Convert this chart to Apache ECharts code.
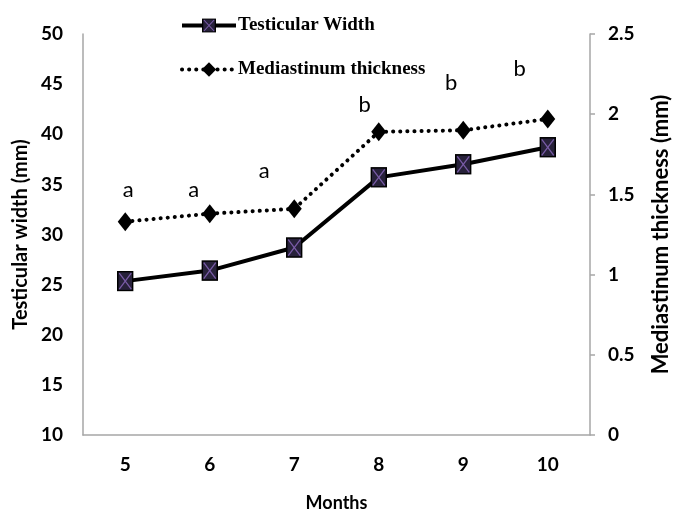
<!DOCTYPE html>
<html>
<head>
<meta charset="utf-8">
<script src="https://cdn.jsdelivr.net/npm/echarts@6/dist/echarts.min.js"></script>
<style>html,body{margin:0;padding:0;background:#fff}#c{width:680px;height:517px}</style>
</head>
<body>
<div id="c"></div>
<script>
var months = ['5', '6', '7', '8', '9', '10'];
var testicularWidth = [25.35, 26.4, 28.7, 35.7, 37.0, 38.7];
var mediastinumThickness = [1.33, 1.38, 1.41, 1.89, 1.90, 1.97];
var letters = ['a', 'a', 'a', 'b', 'b', 'b'];
var leftTicks = {min: 10, max: 50, interval: 5};
var rightTicks = {min: 0, max: 2.5, interval: 0.5};

// style: where each letter sits relative to its diamond (px)
var letterOffsets = [[3, -32], [-16, -24], [-30, -38], [-14, -27], [-12, -47], [-28, -50]];

var svg = '<svg xmlns="http://www.w3.org/2000/svg" width="34" height="42" viewBox="0 0 34 42">' +
  '<rect x="2" y="2" width="30" height="38" fill="#27213a" stroke="#000" stroke-width="3"/>' +
  '<line x1="5" y1="5" x2="29" y2="37" stroke="#7a5ca8" stroke-width="2.6"/>' +
  '<line x1="29" y1="5" x2="5" y2="37" stroke="#7a5ca8" stroke-width="2.6"/>' +
  '</svg>';
var squareX = 'image://data:image/svg+xml;charset=utf-8,' + encodeURIComponent(svg);

var axisFont = 'Lato';
var gray = '#a6a6a6';

var chart = echarts.init(document.getElementById('c'), null, {renderer: 'canvas'});
chart.setOption({
  animation: false,
  backgroundColor: '#fff',
  grid: {left: 83, right: 75, top: 34, bottom: 74, containLabel: false},
  legend: {
    orient: 'vertical',
    left: 175,
    top: 11,
    itemWidth: 54,
    itemHeight: 18,
    itemGap: 25,
    textStyle: {fontFamily: 'Liberation Serif', fontWeight: 'bold', fontSize: 19, color: '#000', padding: [0, 0, 0, -3]},
    data: [
      {name: 'Testicular Width', lineStyle: {width: 4, color: '#000'}},
      {name: 'Mediastinum thickness', lineStyle: {width: 4, color: '#000', type: [0.1, 7], cap: 'round'}}
    ]
  },
  xAxis: {
    type: 'category',
    data: months,
    name: 'Months',
    nameLocation: 'middle',
    nameGap: 59,
    nameTextStyle: {fontFamily: axisFont, fontWeight: 'bold', fontSize: 18, color: '#000'},
    axisLine: {lineStyle: {color: gray, width: 1.5}},
    axisTick: {show: false},
    axisLabel: {margin: 20, fontFamily: axisFont, fontWeight: 'bold', fontSize: 19, color: '#000'},
    splitLine: {show: false}
  },
  yAxis: [{
    type: 'value',
    min: leftTicks.min, max: leftTicks.max, interval: leftTicks.interval,
    name: 'Testicular width (mm)',
    nameLocation: 'middle',
    nameGap: 36,
    nameTextStyle: {fontFamily: axisFont, fontWeight: 'bold', fontSize: 20, color: '#000'},
    axisLine: {show: true, lineStyle: {color: gray, width: 1.5}},
    axisTick: {show: false},
    axisLabel: {margin: 20, fontFamily: axisFont, fontWeight: 'bold', fontSize: 19, color: '#000'},
    splitLine: {show: false}
  }, {
    type: 'value',
    position: 'right',
    min: rightTicks.min, max: rightTicks.max, interval: rightTicks.interval,
    name: 'Mediastinum thickness (mm)',
    nameLocation: 'middle',
    nameGap: 60,
    nameTextStyle: {fontFamily: axisFont, fontWeight: 'bold', fontSize: 22, color: '#000'},
    axisLine: {show: true, lineStyle: {color: gray, width: 1.5}},
    axisTick: {show: true, length: 5, lineStyle: {color: gray, width: 1.5}},
    axisLabel: {margin: 18, fontFamily: axisFont, fontWeight: 'bold', fontSize: 19, color: '#000'},
    splitLine: {show: false}
  }],
  series: [{
    name: 'Testicular Width',
    type: 'line',
    yAxisIndex: 0,
    data: testicularWidth,
    symbol: squareX,
    symbolSize: [17, 21],
    lineStyle: {color: '#000', width: 4},
    itemStyle: {color: '#000'},
    z: 3
  }, {
    name: 'Mediastinum thickness',
    type: 'line',
    yAxisIndex: 1,
    data: mediastinumThickness.map(function (v, i) {
      return {
        value: v,
        label: {
          show: true,
          formatter: letters[i],
          position: 'inside',
          offset: letterOffsets[i],
          fontFamily: axisFont,
          fontSize: 22,
          color: '#000'
        }
      };
    }),
    symbol: 'diamond',
    symbolSize: [15, 19],
    lineStyle: {color: '#000', width: 4, type: [0.1, 7], cap: 'round'},
    itemStyle: {color: '#000'},
    z: 4
  }]
});
</script>
</body>
</html>
